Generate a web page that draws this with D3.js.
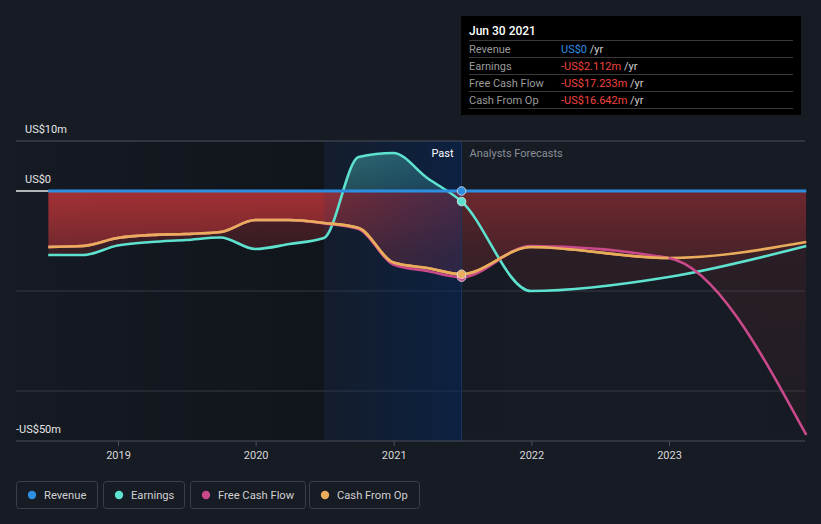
<!DOCTYPE html>
<html><head><meta charset="utf-8">
<script src="https://cdn.jsdelivr.net/npm/d3@7"></script>
<style>
html,body{margin:0;padding:0;background:#161b24;}
svg{display:block;font-family:Roboto,"Noto Sans",sans-serif;}
</style></head>
<body>
<svg id="chart" width="821" height="524"></svg>
<script>
// ---- data (US$ millions) ----
const pastDates = ["2018-06-30","2018-09-30","2018-12-31","2019-03-31","2019-06-30","2019-09-30","2019-12-31","2020-03-31","2020-06-30","2020-09-30","2020-12-31","2021-03-31","2021-06-30"];
const pastRevenue = [0,0,0,0,0,0,0,0,0,0,0,0,0];
const pastEarnings = [-12.8,-12.8,-10.9,-10.2,-9.8,-9.3,-11.6,-10.6,-9.4,6.8,7.6,2.6,-2.112];
const pastFCF = [-11.2,-11.0,-9.4,-8.8,-8.6,-8.2,-5.8,-5.8,-6.5,-7.6,-14.7,-16.0,-17.233];
const pastCFO = [-11.2,-11.0,-9.4,-8.8,-8.6,-8.2,-5.8,-5.8,-6.4,-7.4,-14.3,-15.4,-16.642];
const fcDates = ["2021-06-30","2021-12-31","2022-12-31","2023-12-31"];
const fcRevenue = [0,0,0,0];
const fcEarnings = [-2.112,-20.0,-17.2,-11.0];
const fcFCF = [-17.233,-11.0,-13.4,-48.8];
const fcCFO = [-16.642,-11.2,-13.4,-10.2];
const yTickValues = [10, 0, -50];
const yTickLabels = ["US$10m","US$0","-US$50m"];
const gridValues = [10, -20, -40];
const xTickYears = [2019,2020,2021,2022,2023];
const seriesNames = ["Revenue","Earnings","Free Cash Flow","Cash From Op"];
const seriesColors = ["#2d8fe2","#5ee2d0","#c9498a","#e9ad5c"];
const tooltipDate = "Jun 30 2021";
const tooltipValues = ["US$0","-US$2.112m","-US$17.233m","-US$16.642m"];

const parse = d3.timeParse("%Y-%m-%d");
const svg = d3.select("#chart");
const x = d3.scaleTime().domain([new Date(2019,0,1), new Date(2023,0,1)]).range([118, 669]);
const y = d3.scaleLinear().domain([10,-50]).range([141, 441]);
const L = 16, R = 805, T = 141, B = 441;

function mk(dates, vals){ return dates.map((d,i)=>({d:parse(d), v:vals[i]})); }
const allDates = pastDates.concat(fcDates.slice(1));
const earnings = mk(allDates, pastEarnings.concat(fcEarnings.slice(1)));
const fcf = mk(allDates, pastFCF.concat(fcFCF.slice(1)));
const cfo = mk(allDates, pastCFO.concat(fcCFO.slice(1)));
const revenue = mk(allDates, pastRevenue.concat(fcRevenue.slice(1)));

const xStart = x(parse(pastDates[0])), xEnd = x(parse(fcDates[fcDates.length-1]));
const xNow = x(parse("2021-06-30")), xHl = x(parse("2020-06-30"));
const y0 = y(0);

const defs = svg.append("defs");
function lg(id, x1,y1,x2,y2, stops){
  const g = defs.append("linearGradient").attr("id",id).attr("gradientUnits","userSpaceOnUse")
    .attr("x1",x1).attr("y1",y1).attr("x2",x2).attr("y2",y2);
  stops.forEach(s=>g.append("stop").attr("offset",s[0]).attr("stop-color",s[1]).attr("stop-opacity",s[2]));
}
lg("redG",0,y0,0,B,[[0,"rgb(232,60,62)",0.31],[0.25,"rgb(232,60,62)",0.16],[1,"rgb(232,60,62)",0.07]]);
lg("tealG",0,T,0,y0,[[0,"rgb(94,226,208)",0.5],[1,"rgb(94,226,208)",0.3]]);
lg("darkG",L,0,xHl,0,[[0,"#000",0.04],[1,"#000",0.25]]);
lg("hlG",xHl,0,xNow,0,[[0,"rgb(0,40,100)",0.12],[1,"rgb(0,40,100)",0.45]]);

function clip(id,x0,yy0,x1,yy1){ defs.append("clipPath").attr("id",id).append("rect").attr("x",x0).attr("y",yy0).attr("width",x1-x0).attr("height",yy1-yy0); }
clip("negPast", xStart, y0, xNow, B);
clip("negFc", xNow, y0, xEnd, B);
clip("pos", xStart, T-20, xEnd, y0);

// background dark past region
svg.append("rect").attr("x",L).attr("y",T).attr("width",xHl-L).attr("height",B-T).attr("fill","url(#darkG)");

// gridlines
svg.selectAll(".grid").data(gridValues).enter().append("line")
  .attr("x1",L).attr("x2",R).attr("y1",d=>y(d)).attr("y2",d=>y(d))
  .attr("stroke","#353a44").attr("stroke-width",1);

// areas
const area = d3.area().curve(d3.curveMonotoneX).x(d=>x(d.d)).y0(y0).y1(d=>y(d.v));
const areaSeries = [earnings, fcf, cfo];
const gPast = svg.append("g").attr("clip-path","url(#negPast)");
const gFc = svg.append("g").attr("clip-path","url(#negFc)").attr("opacity",0.62);
const gPos = svg.append("g").attr("clip-path","url(#pos)");
areaSeries.forEach(s=>{
  gPast.append("path").attr("d",area(s)).attr("fill","url(#redG)");
  gFc.append("path").attr("d",area(s)).attr("fill","url(#redG)");
});
gPos.append("path").attr("d",area(earnings)).attr("fill","url(#tealG)");

// highlight overlay
svg.append("rect").attr("x",xHl).attr("y",T).attr("width",xNow-xHl).attr("height",B-T).attr("fill","url(#hlG)");
svg.append("line").attr("x1",xNow).attr("x2",xNow).attr("y1",T).attr("y2",B).attr("stroke","#1d3457").attr("stroke-width",1);

// top gridline + zero line
svg.append("line").attr("x1",L).attr("x2",R).attr("y1",T).attr("y2",T).attr("stroke","#3d424c");
svg.append("line").attr("x1",L).attr("x2",R).attr("y1",y0).attr("y2",y0).attr("stroke","#e8e8e8").attr("stroke-width",1.5);

// lines
const line = d3.line().curve(d3.curveMonotoneX).x(d=>x(d.d)).y(d=>y(d.v));
defs.append("clipPath").attr("id","cfoTop").append("rect").attr("x",xStart).attr("y",T).attr("width",x(parse("2022-12-31"))-xStart).attr("height",B-T);
[[earnings,1],[cfo,3],[fcf,2]].forEach(([s,i])=>{
  svg.append("path").attr("d",line(s)).attr("fill","none").attr("stroke",seriesColors[i]).attr("stroke-width",2.6);
});
svg.append("path").attr("d",line(cfo)).attr("fill","none").attr("stroke",seriesColors[3]).attr("stroke-width",2.6)
  .attr("clip-path","url(#cfoTop)");
svg.append("path").attr("d",line(revenue)).attr("fill","none").attr("stroke",seriesColors[0]).attr("stroke-width",3);

// markers at now
const nowVals = [0, -2.112, -17.233, -16.642];
[0,1,2,3].forEach(i=>{
  svg.append("circle").attr("cx",xNow).attr("cy",y(nowVals[i])).attr("r",4.3)
    .attr("fill",seriesColors[i]).attr("stroke","#e6e6e6").attr("stroke-width",0.8);
});

// Past / Forecast labels
svg.append("text").attr("x",xNow-8).attr("y",157).attr("text-anchor","end").attr("fill","#ffffff").attr("font-size",11).text("Past");
svg.append("text").attr("x",xNow+8).attr("y",157).attr("fill","#8a8f98").attr("font-size",11).text("Analysts Forecasts");

// y labels
svg.selectAll(".ylab").data(yTickValues).enter().append("text")
  .attr("x",(d,i)=> i===2 ? 16 : 25).attr("y",d=>y(d)-8).attr("fill","#e6e6e6").attr("font-size",11)
  .text((d,i)=>yTickLabels[i]);

// x axis
const xAxis = d3.axisBottom(x).tickValues(xTickYears.map(yr=>new Date(yr,0,1))).tickFormat(d3.timeFormat("%Y")).tickSize(5).tickSizeOuter(0);
const gx = svg.append("g").attr("transform",`translate(0,${B})`).call(xAxis);
gx.select(".domain").remove();
gx.selectAll(".tick line").attr("stroke","#4a4f59");
gx.selectAll(".tick text").attr("fill","#d8d8d8").attr("font-size",11).attr("dy","0.9em").attr("font-family","Roboto,sans-serif");
svg.append("line").attr("x1",L).attr("x2",R).attr("y1",B).attr("y2",B).attr("stroke","#4a4f59").attr("stroke-width",1);

// tooltip
const tt = svg.append("g");
tt.append("rect").attr("x",461).attr("y",16).attr("width",340).attr("height",99).attr("fill","#000");
tt.append("text").attr("x",469).attr("y",35).attr("fill","#fff").attr("font-size",12).attr("font-weight",500).text(tooltipDate);
[40.5,57.5,74.5,91.5,108.5].forEach(yy=>tt.append("line").attr("x1",469).attr("x2",793).attr("y1",yy).attr("y2",yy).attr("stroke","#3a3a3a"));
seriesNames.forEach((n,i)=>{
  const by = 52.5 + i*17;
  tt.append("text").attr("x",469).attr("y",by).attr("fill","#9a9a9a").attr("font-size",11).text(n);
  const t = tt.append("text").attr("x",561).attr("y",by).attr("font-size",11);
  t.append("tspan").attr("fill", i===0 ? "#2d8fe2" : "#f0433f").text(tooltipValues[i]);
  t.append("tspan").attr("fill","#cfcfcf").text(" /yr");
});

// legend
const lgX = [16,103,190,309], lgW = [81,81,115,110];
seriesNames.forEach((n,i)=>{
  const g = svg.append("g").attr("transform",`translate(${lgX[i]},481)`);
  g.append("rect").attr("x",0.5).attr("y",0.5).attr("width",lgW[i]).attr("height",27).attr("rx",3)
    .attr("fill","none").attr("stroke","#3a3f49");
  g.append("circle").attr("cx",16).attr("cy",14).attr("r",4.2).attr("fill",seriesColors[i]);
  g.append("text").attr("x",28).attr("y",18).attr("fill","#d0d0d0").attr("font-size",11.2).text(n);
});
</script>
</body></html>
